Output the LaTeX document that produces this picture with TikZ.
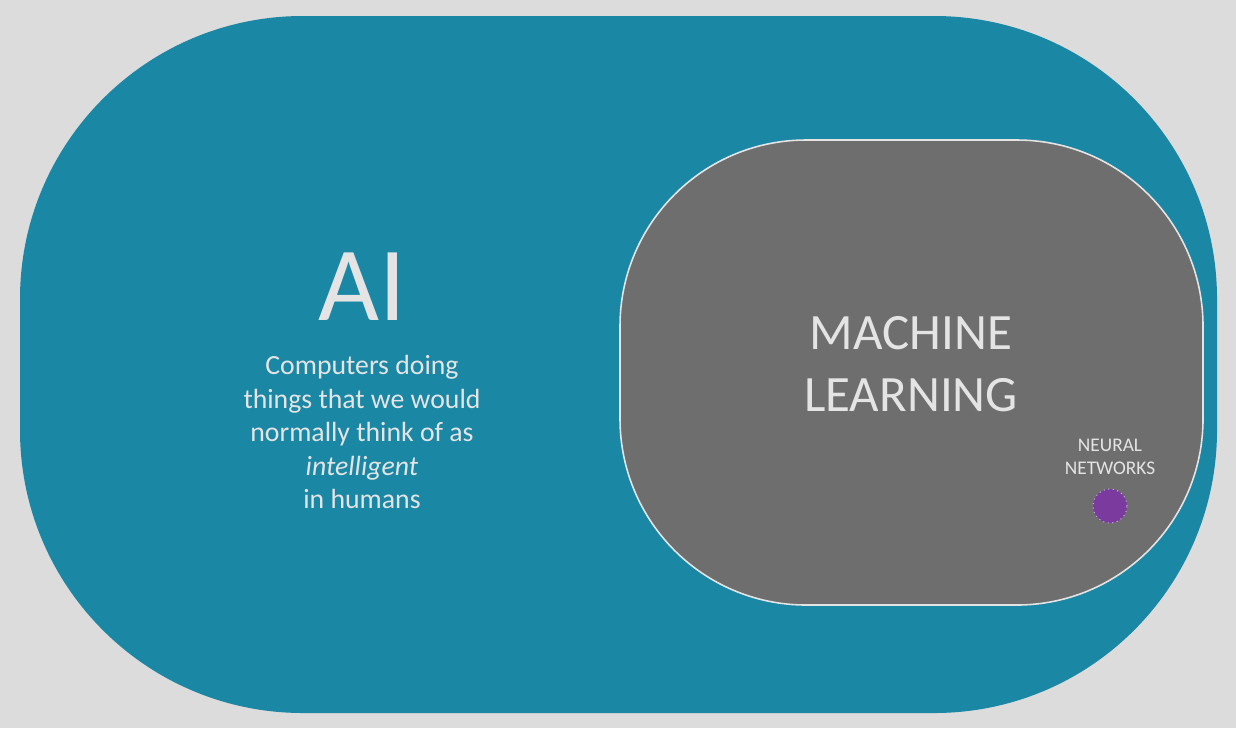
\documentclass[tikz,border=0pt]{standalone}
\usepackage{fontspec}
\setmainfont{Carlito}
\definecolor{bgc}{HTML}{DCDCDC}
\definecolor{aiblue}{HTML}{1A87A5}
\definecolor{mlgray}{HTML}{6E6E6E}
\definecolor{txt}{HTML}{E4E4E4}
\definecolor{nnpurple}{HTML}{7B3A9E}
\definecolor{nnedge}{HTML}{C8A8DC}
\tikzset{
  lbl/.style={text=txt, align=center, inner sep=0pt},
}
\begin{document}
\begin{tikzpicture}[x=0.02cm,y=-0.02cm]
  \fill[bgc] (0,0) rectangle (1236,728);
  \useasboundingbox (0,0) rectangle (1236,728);
  % AI region
  \fill[aiblue, rounded corners=161pt] (20,16) rectangle (1217,713);
  % ML region
  \filldraw[fill=mlgray, draw=txt, line width=0.9pt, rounded corners=106pt] (620,140) rectangle (1203,605);
  % NN circle
  \node[circle, fill=nnpurple, draw=nnedge, dotted, line width=0.6pt, minimum size=0.68cm, inner sep=0pt] (nn) at (1110,506) {};
  % texts
  \node[lbl, font=\fontsize{60}{60}\selectfont] (ai) at (362,287) {AI};
  \node[lbl, font=\fontsize{15.8}{19.1}\selectfont, anchor=north] (aidesc) at (362,355)
    {Computers doing\\things that we would\\normally think of as\\\textit{intelligent}\\in humans};
  \node[lbl, font=\fontsize{29}{35}\selectfont] (ml) at (911,364) {MACHINE\\LEARNING};
  \node[lbl, font=\fontsize{11}{13}\selectfont] (nnlbl) at (1110,457) {NEURAL\\NETWORKS};
\end{tikzpicture}
\end{document}
